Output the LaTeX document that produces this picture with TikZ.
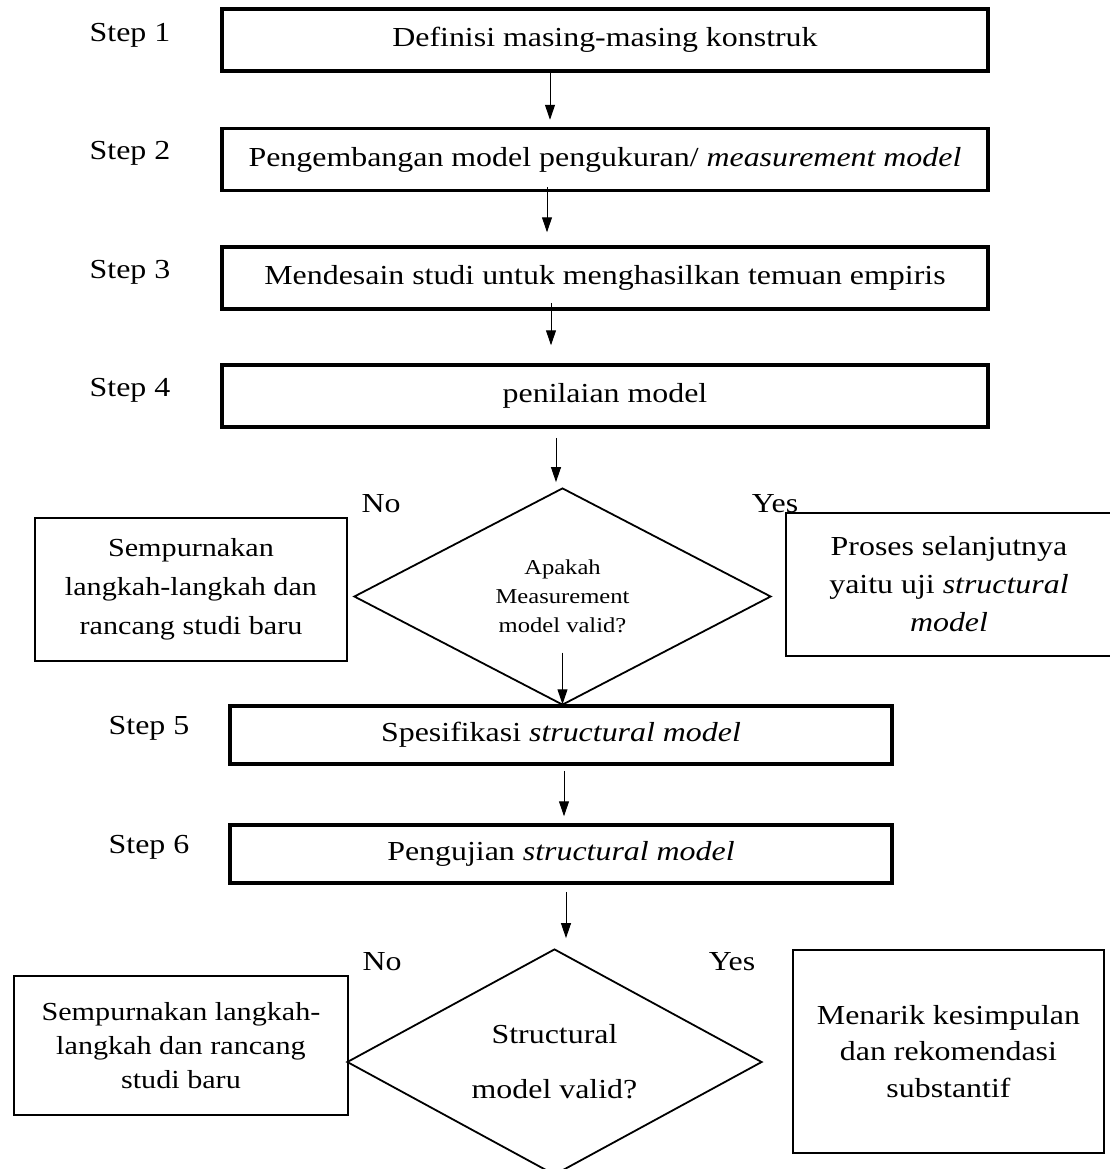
\documentclass[tikz,border=0pt]{standalone}
\usepackage{fontspec}
\setmainfont{Liberation Serif}[FakeStretch=1.16]
\usetikzlibrary{positioning, arrows.meta, shapes.geometric}

\begin{document}
\begin{tikzpicture}[
      x=0.5pt, y=-0.5pt,
      font=\fontsize{13.75}{19}\selectfont,
      stepbox/.style={draw, line width=1.75pt, inner sep=0pt,
                      minimum width=383pt, minimum height=31pt},
      specbox/.style={stepbox, minimum width=331pt, minimum height=29pt},
      sidebox/.style={draw, line width=1pt, align=center, inner sep=0pt},
      cek/.style={draw, diamond, aspect=2, line width=0.9pt, inner sep=0pt, align=center},
      lbl/.style={inner sep=0pt},
      flow/.style={-{Triangle[length=7.5pt, width=5pt]}, line width=0.5pt}
    ]
    \useasboundingbox (0,0) rectangle (1110,1169);

    % Langkah 1-4
    \node[stepbox] (def) at (605,40) {Definisi masing-masing konstruk};
    \node[stepbox] (ukur) at (605,159.5) {Pengembangan model pengukuran/ \textit{measurement model}};
    \node[stepbox] (desain) at (605,278) {Mendesain studi untuk menghasilkan temuan empiris};
    \node[stepbox] (nilai) at (605,396) {penilaian model};

    \node[lbl] (s1) at (130,35) {Step 1};
    \node[lbl] (s2) at (130,153) {Step 2};
    \node[lbl] (s3) at (130,272) {Step 3};
    \node[lbl] (s4) at (130,390) {Step 4};

    % Keputusan measurement model
    \node[cek, minimum width=208.5pt, minimum height=108.5pt,
          font=\fontsize{10.6}{14.5}\selectfont] (cekukur) at (562.5,596.5)
          {Apakah\\Measurement\\model valid?};
    \node[lbl] (no1) at (381,504) {No};
    \node[lbl] (yes1) at (775,504) {Yes};
    \node[sidebox, minimum width=156pt, minimum height=71.5pt,
          font=\fontsize{13}{19.5}\selectfont] (ulang1) at (191,589.5)
          {Sempurnakan\\langkah-langkah dan\\rancang studi baru};
    \node[sidebox, minimum width=163pt, minimum height=71.5pt] (lanjut) at (949,584.5)
          {Proses selanjutnya\\yaitu uji \textit{structural}\\\textit{model}};

    % Langkah 5-6
    \node[specbox] (spek) at (561,735) {Spesifikasi \textit{structural model}};
    \node[specbox] (uji) at (561,854) {Pengujian \textit{structural model}};
    \node[lbl] (s5) at (149,728) {Step 5};
    \node[lbl] (s6) at (149,847) {Step 6};

    % Keputusan structural model
    \node[cek, minimum width=207.5pt, minimum height=113pt,
          font=\fontsize{13.75}{27.5}\selectfont] (cekstruk) at (554.5,1062)
          {Structural\\model valid?};
    \node[lbl] (no2) at (382,962) {No};
    \node[lbl] (yes2) at (732,962) {Yes};
    \node[sidebox, minimum width=167pt, minimum height=69.5pt,
          font=\fontsize{13}{17}\selectfont] (ulang2) at (181,1045.5)
          {Sempurnakan langkah-\\langkah dan rancang\\studi baru};
    \node[sidebox, minimum width=155.5pt, minimum height=101.5pt,
          font=\fontsize{13.75}{18.25}\selectfont] (simpul) at (948.5,1051.5)
          {Menarik kesimpulan\\dan rekomendasi\\substantif};

    % panah
    \coordinate (jalur) at (550,0);
    \draw[flow, shorten >=3.5pt] (def.south -| jalur) -- (ukur.north -| jalur);
    \draw[flow, shorten <=-2.5pt, shorten >=6.5pt] ([xshift=-1.5pt]ukur.south -| jalur) -- ([xshift=-1.5pt]desain.north -| jalur);
    \draw[flow, shorten <=-4pt, shorten >=9pt] ([xshift=0.5pt]desain.south -| jalur) -- ([xshift=0.5pt]nilai.north -| jalur);
    \draw[flow, shorten <=4.5pt, shorten >=2.5pt] ([xshift=3pt]nilai.south -| jalur) -- ([xshift=3pt]cekukur.north -| jalur);
    \draw[flow, shorten <=28pt] (cekukur.center) -- (cekukur.center |- spek.north);
    \draw[flow, shorten <=2.5pt, shorten >=3.5pt] ([xshift=1.5pt]spek.south) -- ([xshift=1.5pt]uji.north);
    \draw[flow, shorten <=3.5pt, shorten >=5pt] ([xshift=2.5pt]uji.south) -- ([xshift=2.5pt]uji.south |- cekstruk.north);
  \end{tikzpicture}
\end{document}
